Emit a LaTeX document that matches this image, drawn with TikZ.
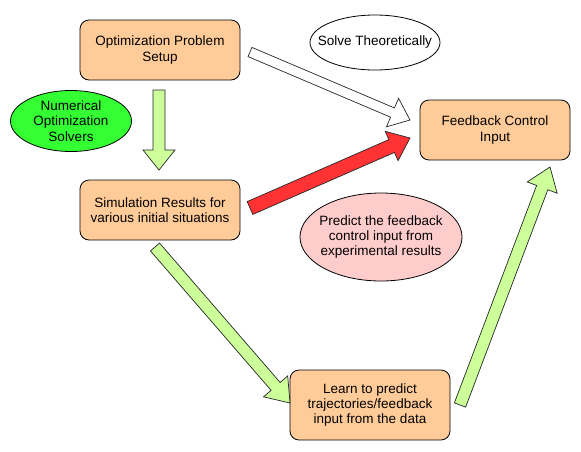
\documentclass[tikz,border=0pt]{standalone}
\usepackage{fontspec}
\setmainfont{Liberation Sans}
\usetikzlibrary{calc,shapes.geometric}
\definecolor{boxor}{HTML}{FFCC99}
\definecolor{solvgreen}{HTML}{33FF33}
\definecolor{predpink}{HTML}{FFCCCC}
\definecolor{arrgreen}{HTML}{CCFF99}
\definecolor{arrred}{HTML}{FF3333}
\tikzset{
  procbox/.style={draw, line width=0.8pt, fill=boxor, rounded corners=9pt, minimum width=160pt, minimum height=60pt, align=center, inner sep=2pt},
  ovalnode/.style={draw, line width=0.8pt, ellipse, align=center, inner sep=0pt},
  arrowline/.style={draw=black!85, line width=0.7pt, line join=miter},
}
% fill, start, end, shaft half width, head half width, head length
\newcommand\blockarrow[6]{%
  \coordinate (baH) at ($(#3)!#6!(#2)$);
  \filldraw[arrowline, fill=#1]
    ($(#2)!#4!90:(#3)$) -- ($(baH)!#4!90:(#3)$) -- ($(baH)!#5!90:(#3)$) --
    (#3) -- ($(baH)!#5!-90:(#3)$) -- ($(baH)!#4!-90:(#3)$) --
    ($(#2)!#4!-90:(#3)$) -- cycle;
}
\begin{document}
\begin{tikzpicture}[x=1pt,y=-1pt, font=\fontsize{13.5}{15.3}\selectfont]
\useasboundingbox (0,0) rectangle (581,451);
\node[procbox] (setup) at (160,50) {Optimization Problem\\Setup};
\node[procbox] (sim) at (160,210) {Simulation Results for\\various initial situations};
\node[procbox, minimum width=150pt] (fb) at (495,130) {Feedback Control\\Input};
\node[procbox, minimum height=70pt] (learn) at (370,405) {Learn to predict\\trajectories/feedback\\input from the data};
\node[ovalnode, fill=solvgreen, inner ysep=-2pt, minimum width=121pt, minimum height=61pt] (num) at (71,121) {Numerical\\Optimization\\Solvers};
\node[ovalnode, fill=white, inner xsep=-13pt, minimum width=130pt, minimum height=55pt] (theo) at (375,42.5) {Solve Theoretically};
\node[ovalnode, fill=predpink, inner xsep=-6pt, inner ysep=-8pt, minimum width=162pt, minimum height=88pt] (pred) at (381,237) {Predict the feedback\\control input from\\experimental results};
% arrow end points
\coordinate (a1s) at (159,90);  \coordinate (a1e) at (159,170);
\coordinate (a2s) at (250,52);  \coordinate (a2e) at (410,120);
\coordinate (a3s) at (250,208); \coordinate (a3e) at (410,138);
\coordinate (a4s) at (155,247); \coordinate (a4e) at (290,403);
\coordinate (a5s) at (460,405); \coordinate (a5e) at (550,167);
\blockarrow{arrgreen}{a1s}{a1e}{6pt}{16pt}{20pt}
\blockarrow{white}{a2s}{a2e}{5pt}{15.5pt}{19pt}
\blockarrow{arrred}{a3s}{a3e}{7pt}{16pt}{20pt}
\blockarrow{arrgreen}{a4s}{a4e}{6pt}{16pt}{22pt}
\blockarrow{arrgreen}{a5s}{a5e}{6pt}{16pt}{22pt}
\end{tikzpicture}
\end{document}
